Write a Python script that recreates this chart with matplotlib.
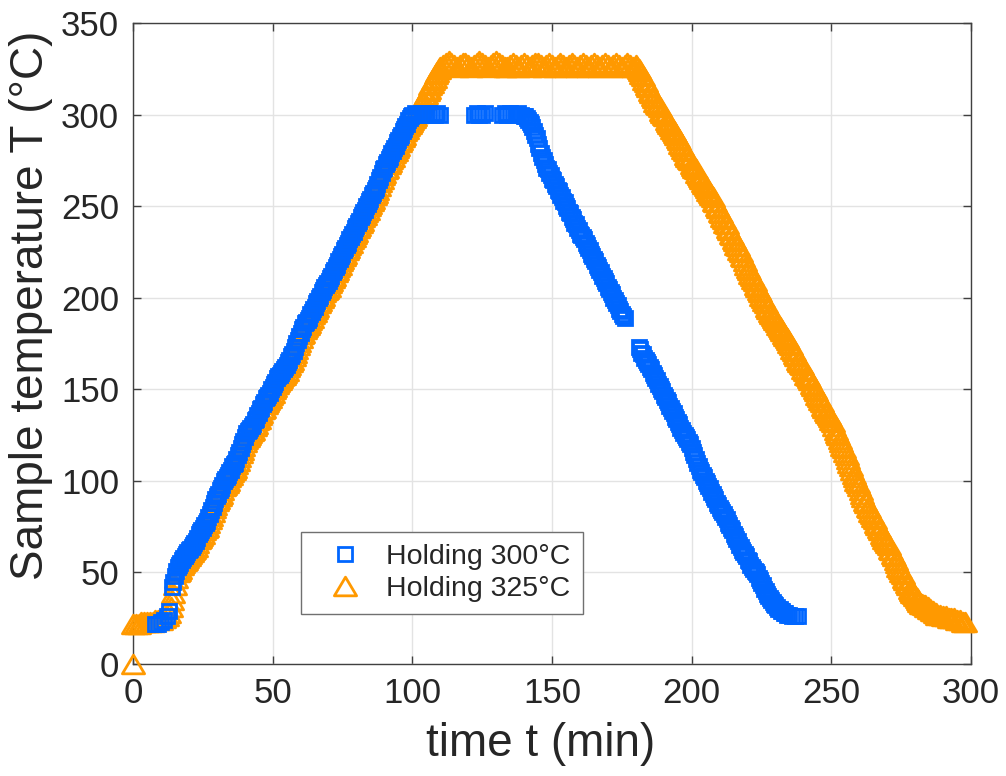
import matplotlib
matplotlib.use('Agg')
import matplotlib.pyplot as plt
from matplotlib.lines import Line2D
from matplotlib.path import Path

plt.rcParams['font.family'] = ['Liberation Sans', 'DejaVu Sans']

# holding at 300 C -- time (min), sample temperature (C)
blue_heat_t = [8, 9, 10, 11, 12, 13,
               14, 14.5, 15, 15.5, 16, 16.5, 17, 17.5, 18, 18.5,
               19, 19.5, 20, 20.5, 21, 21.5, 22, 22.5, 23, 23.5,
               24, 24.5, 25, 25.5, 26, 26.5, 27, 27.5, 28, 28.5,
               29, 29.5, 30, 30.5, 31, 31.5, 32, 32.5, 33, 33.5,
               34, 34.5, 35, 35.5, 36, 36.5, 37, 37.5, 38, 38.5,
               39, 39.5, 40, 40.5, 41, 41.5, 42, 42.5, 43, 43.5,
               44, 44.5, 45, 45.5, 46, 46.5, 47, 47.5, 48, 48.5,
               49, 49.5, 50, 50.5, 51, 51.5, 52, 52.5, 53, 53.5,
               54, 54.5, 55, 55.5, 56, 56.5, 57, 57.5, 58, 58.5,
               59, 59.5, 60, 60.5, 61, 61.5, 62, 62.5, 63, 63.5,
               64, 64.5, 65, 65.5, 66, 66.5, 67, 67.5, 68, 68.5,
               69, 69.5, 70, 70.5, 71, 71.5, 72, 72.5, 73, 73.5,
               74, 74.5, 75, 75.5, 76, 76.5, 77, 77.5, 78, 78.5,
               79, 79.5, 80, 80.5, 81, 81.5, 82, 82.5, 83, 83.5,
               84, 84.5, 85, 85.5, 86, 86.5, 87, 87.5, 88, 88.5,
               89, 89.5, 90, 90.5, 91, 91.5, 92, 92.5, 93, 93.5,
               94, 94.5, 95, 95.5, 96, 96.5, 97, 97.5, 98, 98.5,
               99, 99.5, 100,
               101, 102, 103, 104, 105, 106, 107, 108, 109, 110]
blue_heat_T = [22, 22, 23, 24, 26, 29,
               42, 45, 48, 51, 53, 54, 55, 57, 58, 59,
               60, 61, 62, 63, 64, 65, 66, 67, 69, 71,
               72, 73, 74, 76, 77, 78, 80, 82, 84, 86,
               88, 90, 92, 93, 95, 96, 98, 100, 101, 102,
               103, 105, 106, 108, 109, 110, 112, 114, 116, 118,
               120, 122, 124, 126, 127, 128, 129, 130, 131, 133,
               134, 136, 137, 139, 140, 142, 143, 145, 146, 147,
               148, 150, 151, 153, 154, 156, 157, 158, 159, 160,
               161, 162, 163, 165, 166, 168, 169, 171, 173, 175,
               177, 179, 181, 183, 184, 186, 187, 188, 189, 191,
               192, 194, 195, 197, 198, 200, 201, 203, 204, 206,
               207, 208, 209, 211, 212, 214, 215, 217, 218, 220,
               221, 223, 224, 226, 227, 229, 230, 232, 233, 235,
               236, 238, 239, 241, 242, 244, 245, 247, 248, 250,
               251, 253, 254, 256, 257, 259, 260, 262, 264, 266,
               268, 270, 271, 273, 274, 276, 277, 279, 280, 282,
               283, 285, 286, 288, 289, 291, 292, 294, 295, 297,
               298, 299, 300,
               301, 300, 301, 300, 300, 301, 300, 300, 301, 300]
blue_hold_t = [122, 123, 124, 125, 126, 132, 133, 134, 135, 136, 137, 138, 139]
blue_hold_T = [300, 301, 300, 300, 301, 300, 301, 300, 301, 300, 300, 301, 300]
blue_cool_t = [140, 140.5, 141, 141.5, 142, 142.5, 143, 143.5, 144, 144.5,
               145, 145.5, 146, 146.5, 147, 147.5, 148, 148.5, 149, 149.5,
               150, 150.5, 151, 151.5, 152, 152.5, 153, 153.5, 154, 154.5,
               155, 155.5, 156, 156.5, 157, 157.5, 158, 158.5, 159, 159.5,
               160, 160.5, 161, 161.5, 162, 162.5, 163, 163.5, 164, 164.5,
               165, 165.5, 166, 166.5, 167, 167.5, 168, 168.5, 169, 169.5,
               170, 170.5, 171, 171.5, 172, 172.5, 173, 173.5, 174, 174.5,
               175, 175.5, 176,
               181, 181.5, 182, 182.5, 183, 183.5, 184, 184.5, 185, 185.5,
               186, 186.5, 187, 187.5, 188, 188.5, 189, 189.5, 190, 190.5,
               191, 191.5, 192, 192.5, 193, 193.5, 194, 194.5, 195, 195.5,
               196, 196.5, 197, 197.5, 198, 198.5, 199, 199.5, 200, 200.5,
               201, 201.5, 202, 202.5, 203, 203.5, 204, 204.5, 205, 205.5,
               206, 206.5, 207, 207.5, 208, 208.5, 209, 209.5, 210, 210.5,
               211, 211.5, 212, 212.5, 213, 213.5, 214, 214.5, 215, 215.5,
               216, 216.5, 217, 217.5, 218, 218.5, 219, 219.5, 220, 220.5,
               221, 221.5, 222, 222.5, 223, 223.5, 224, 224.5, 225, 225.5,
               226, 226.5, 227, 227.5, 228, 228.5, 229, 229.5, 230, 230.5,
               231, 231.5, 232, 232.5, 233, 233.5,
               234, 235, 236, 237, 238]
blue_cool_T = [299, 299, 298, 297, 296, 295, 293, 291, 289, 287,
               284, 282, 279, 277, 275, 273, 271, 270, 268, 267,
               265, 264, 262, 261, 259, 258, 256, 255, 253, 252,
               250, 249, 247, 246, 244, 243, 241, 240, 238, 237,
               235, 234, 233, 232, 230, 229, 227, 226, 224, 223,
               221, 220, 218, 217, 215, 214, 212, 211, 209, 208,
               206, 205, 203, 202, 200, 199, 197, 196, 194, 193,
               191, 190, 189,
               173, 172, 170, 169, 167, 166, 165, 164, 162, 161,
               159, 158, 156, 155, 153, 152, 150, 149, 147, 146,
               144, 143, 141, 140, 138, 137, 135, 134, 132, 131,
               129, 128, 126, 125, 124, 123, 121, 120, 118, 116,
               114, 112, 110, 108, 106, 105, 103, 102, 100, 99,
               97, 96, 94, 93, 91, 90, 88, 87, 85, 84,
               83, 82, 80, 79, 77, 76, 74, 73, 71, 70,
               68, 67, 65, 64, 62, 61, 60, 59, 57, 56,
               54, 53, 52, 51, 50, 49, 47, 46, 44, 43,
               41, 40, 38, 37, 36, 35, 34, 33, 32, 31,
               30, 30, 29, 29, 28, 28,
               27, 27, 26, 26, 26]

# holding at 325 C
orange_heat_t = [0,
                 0, 1, 2, 3, 4, 5, 6, 7, 8, 9, 10, 11, 12,
                 13, 13.5, 14, 14.5, 15, 15.5, 16, 16.5, 17, 17.5,
                 18, 18.5, 19, 19.5, 20, 20.5, 21, 21.5, 22, 22.5,
                 23, 23.5, 24, 24.5, 25, 25.5, 26, 26.5, 27, 27.5,
                 28, 28.5, 29, 29.5, 30, 30.5, 31, 31.5, 32, 32.5,
                 33, 33.5, 34, 34.5, 35, 35.5, 36, 36.5, 37, 37.5,
                 38, 38.5, 39, 39.5, 40, 40.5, 41, 41.5, 42, 42.5,
                 43, 43.5, 44, 44.5, 45, 45.5, 46, 46.5, 47, 47.5,
                 48, 48.5, 49, 49.5, 50, 50.5, 51, 51.5, 52, 52.5,
                 53, 53.5, 54, 54.5, 55, 55.5, 56, 56.5, 57, 57.5,
                 58, 58.5, 59, 59.5, 60, 60.5, 61, 61.5, 62, 62.5,
                 63, 63.5, 64, 64.5, 65, 65.5, 66, 66.5, 67, 67.5,
                 68, 68.5, 69, 69.5, 70, 70.5, 71, 71.5, 72, 72.5,
                 73, 73.5, 74, 74.5, 75, 75.5, 76, 76.5, 77, 77.5,
                 78, 78.5, 79, 79.5, 80, 80.5, 81, 81.5, 82, 82.5,
                 83, 83.5, 84, 84.5, 85, 85.5, 86, 86.5, 87, 87.5,
                 88, 88.5, 89, 89.5, 90, 90.5, 91, 91.5, 92, 92.5,
                 93, 93.5, 94, 94.5, 95, 95.5, 96, 96.5, 97, 97.5,
                 98, 98.5, 99, 99.5, 100, 100.5, 101, 101.5, 102, 102.5,
                 103, 103.5, 104, 104.5, 105, 105.5, 106, 106.5, 107, 107.5,
                 108, 108.5, 109, 109.5, 110]
orange_heat_T = [0,
                 22, 22, 22, 23, 23, 23, 23, 23, 24, 24, 24, 25, 26,
                 28, 31, 35, 39, 43, 47, 50, 51, 52, 54,
                 55, 56, 57, 58, 59, 60, 61, 62, 63, 64,
                 66, 68, 69, 70, 71, 73, 74, 75, 77, 79,
                 81, 83, 85, 87, 89, 90, 92, 93, 95, 97,
                 98, 99, 100, 102, 103, 105, 106, 107, 109, 111,
                 113, 115, 117, 119, 121, 123, 124, 125, 126, 127,
                 128, 130, 131, 133, 134, 136, 137, 139, 140, 142,
                 143, 144, 145, 147, 148, 150, 151, 153, 154, 155,
                 156, 157, 158, 159, 160, 162, 163, 165, 166, 168,
                 170, 172, 174, 176, 178, 180, 181, 183, 184, 185,
                 186, 188, 189, 191, 192, 194, 195, 197, 198, 200,
                 201, 203, 204, 205, 206, 208, 209, 211, 212, 214,
                 215, 217, 218, 220, 221, 223, 224, 226, 227, 229,
                 230, 232, 233, 235, 236, 238, 239, 241, 242, 244,
                 245, 247, 248, 250, 251, 253, 254, 256, 257, 259,
                 261, 263, 265, 267, 268, 270, 271, 273, 274, 276,
                 277, 279, 280, 282, 283, 285, 286, 288, 289, 291,
                 292, 294, 295, 296, 297, 298, 299, 301, 302, 304,
                 305, 307, 308, 310, 311, 313, 314, 316, 317, 319,
                 320, 322, 323, 325, 326]
orange_hold_t = [111, 112, 113, 114, 115, 116, 117, 118, 119,
                 120, 121, 122, 123, 124, 125, 126, 127, 128, 129,
                 130, 131, 132, 133, 134, 135, 136, 137, 138, 139,
                 140, 141, 142, 143, 144, 145, 146, 147, 148, 149,
                 150, 151, 152, 153, 154, 155, 156, 157, 158, 159,
                 160, 161, 162, 163, 164, 165, 166, 167, 168, 169,
                 170, 171, 172, 173, 174, 175, 176, 177, 178, 179]
orange_hold_T = [327, 328, 329, 328, 327, 326, 327, 328, 328,
                 327, 326, 327, 328, 329, 328, 327, 326, 327, 328,
                 329, 328, 327, 326, 326, 327, 328, 327, 326, 327,
                 328, 327, 326, 327, 328, 328, 327, 326, 327, 328,
                 327, 326, 327, 328, 327, 326, 327, 328, 327, 326,
                 327, 328, 327, 326, 327, 328, 327, 326, 327, 328,
                 327, 326, 327, 328, 327, 326, 327, 328, 327, 326]
orange_cool_t = [180, 180.5, 181, 181.5, 182, 182.5, 183, 183.5, 184, 184.5,
                 185, 185.5, 186, 186.5, 187, 187.5, 188, 188.5, 189, 189.5,
                 190, 190.5, 191, 191.5, 192, 192.5, 193, 193.5, 194, 194.5,
                 195, 195.5, 196, 196.5, 197, 197.5, 198, 198.5, 199, 199.5,
                 200, 200.5, 201, 201.5, 202, 202.5, 203, 203.5, 204, 204.5,
                 205, 205.5, 206, 206.5, 207, 207.5, 208, 208.5, 209, 209.5,
                 210, 210.5, 211, 211.5, 212, 212.5, 213, 213.5, 214, 214.5,
                 215, 215.5, 216, 216.5, 217, 217.5, 218, 218.5, 219, 219.5,
                 220, 220.5, 221, 221.5, 222, 222.5, 223, 223.5, 224, 224.5,
                 225, 225.5, 226, 226.5, 227, 227.5, 228, 228.5, 229, 229.5,
                 230, 230.5, 231, 231.5, 232, 232.5, 233, 233.5, 234, 234.5,
                 235, 235.5, 236, 236.5, 237, 237.5, 238, 238.5, 239, 239.5,
                 240, 240.5, 241, 241.5, 242, 242.5, 243, 243.5, 244, 244.5,
                 245, 245.5, 246, 246.5, 247, 247.5, 248, 248.5, 249, 249.5,
                 250, 250.5, 251, 251.5, 252, 252.5, 253, 253.5, 254, 254.5,
                 255, 255.5, 256, 256.5, 257, 257.5, 258, 258.5, 259, 259.5,
                 260, 260.5, 261, 261.5, 262, 262.5, 263, 263.5, 264, 264.5,
                 265, 265.5, 266, 266.5, 267, 267.5, 268, 268.5, 269, 269.5,
                 270, 270.5, 271, 271.5, 272, 272.5, 273, 273.5, 274, 274.5,
                 275, 275.5, 276, 276.5, 277, 277.5, 278, 278.5, 279, 279.5,
                 280, 280.5, 281, 281.5, 282, 282.5, 283, 283.5, 284, 284.5,
                 285, 285.5, 286, 286.5, 287, 287.5,
                 288, 289, 290, 291, 292, 293, 294, 295, 296, 297, 298]
orange_cool_T = [327, 326, 325, 324, 322, 321, 319, 318, 316, 315,
                 313, 312, 310, 309, 307, 306, 305, 304, 302, 301,
                 300, 299, 297, 296, 295, 294, 292, 291, 290, 289,
                 287, 286, 284, 283, 281, 280, 278, 277, 276, 275,
                 273, 272, 271, 270, 268, 267, 266, 265, 263, 262,
                 261, 260, 258, 257, 256, 255, 253, 252, 250, 249,
                 247, 246, 244, 243, 241, 240, 238, 237, 235, 234,
                 232, 231, 229, 228, 226, 225, 223, 222, 220, 218,
                 216, 215, 213, 212, 210, 209, 207, 206, 204, 203,
                 201, 200, 198, 197, 195, 194, 192, 191, 190, 189,
                 188, 187, 185, 184, 183, 182, 180, 179, 178, 177,
                 175, 174, 172, 171, 169, 168, 166, 165, 164, 163,
                 161, 160, 158, 157, 156, 155, 153, 152, 150, 149,
                 147, 146, 144, 143, 141, 140, 138, 137, 136, 135,
                 133, 132, 130, 128, 126, 125, 123, 121, 119, 118,
                 116, 114, 112, 110, 108, 106, 104, 102, 100, 99,
                 97, 95, 93, 91, 89, 88, 86, 85, 83, 82,
                 80, 79, 77, 76, 74, 73, 71, 70, 68, 67,
                 66, 65, 63, 62, 60, 59, 57, 55, 53, 52,
                 50, 49, 47, 46, 44, 43, 41, 40, 39, 38,
                 37, 36, 35, 34, 33, 33, 32, 32, 31, 31,
                 30, 30, 29, 29, 28, 28,
                 27, 27, 26, 26, 25, 25, 25, 24, 24, 23, 23]

labels = ['Holding 300°C', 'Holding 325°C']
blue = '#0066ff'
orange = '#ff9900'
ink = '#262626'

blue_t = blue_heat_t + blue_hold_t + blue_cool_t
blue_T = blue_heat_T + blue_hold_T + blue_cool_T
orange_t = orange_heat_t + orange_hold_t + orange_cool_t
orange_T = orange_heat_T + orange_hold_T + orange_cool_T

# MATLAB style triangle is a bit flatter than matplotlib's '^'
tri = Path([(0, 0.84), (-1, -0.84), (1, -0.84), (0, 0.84)],
           [Path.MOVETO, Path.LINETO, Path.LINETO, Path.CLOSEPOLY])
sq_style = dict(linestyle='none', marker='s', markersize=10.1, markerfacecolor='none',
                markeredgecolor=blue, markeredgewidth=2.0)
tri_style = dict(linestyle='none', marker=tri, markersize=16, markerfacecolor='none',
                 markeredgecolor=orange, markeredgewidth=2.0)

fig = plt.figure(figsize=(10.06, 7.76), dpi=100)
ax = fig.add_axes([0.1322, 0.1443, 0.9652 - 0.1322, 0.9704 - 0.1443])

ax.plot(orange_t, orange_T, zorder=3, clip_on=False, **tri_style)
ax.plot(blue_t, blue_T, zorder=4, clip_on=False, **sq_style)

ax.set_xlim(0, 300)
ax.set_ylim(0, 350)
ax.set_xticks([0, 50, 100, 150, 200, 250, 300])
ax.set_yticks([0, 50, 100, 150, 200, 250, 300, 350])
ax.grid(True, color='#e3e3e3', linewidth=1.0)
ax.set_axisbelow(True)
for s in ax.spines.values():
    s.set_color('#404040')
    s.set_linewidth(1.0)
ax.tick_params(direction='in', length=6, width=1.0, color='#404040',
               top=True, right=True, labelsize=25, labelcolor=ink)
ax.tick_params(axis='x', pad=9)
ax.tick_params(axis='y', pad=10)

ax.set_xlabel('time t (min)', fontsize=33, color=ink, labelpad=9)
ax.set_ylabel('Sample temperature T (°C)', fontsize=33, color=ink, labelpad=6)
ax.xaxis.label.set_x(0.486)
ax.yaxis.label.set_y(0.56)

handles = [Line2D([], [], **sq_style), Line2D([], [], **tri_style)]
leg = ax.legend(handles, labels, loc='lower left', bbox_to_anchor=(0.2005, 0.078),
                borderaxespad=0, fontsize=20.5, fancybox=False, framealpha=1,
                edgecolor='#707070', handlelength=2.28, handletextpad=0.3,
                labelspacing=0.22, borderpad=0.42)
leg.get_frame().set_linewidth(1.0)
for t in leg.get_texts():
    t.set_color(ink)

fig.savefig('out.png', dpi=100)
